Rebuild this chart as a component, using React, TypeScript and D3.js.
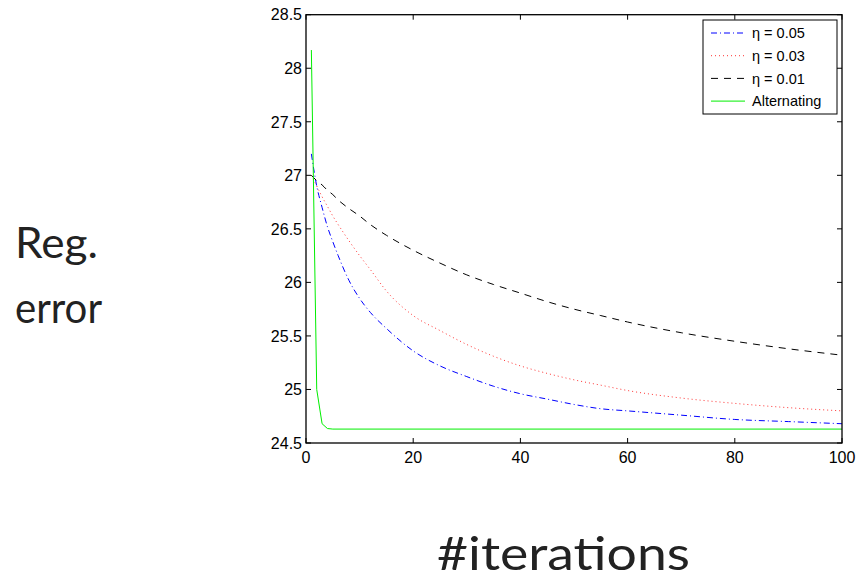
import React from "react";
import * as d3 from "d3";

const iters = [1, 2, 3, 4, 5, 6, 8, 10, 12, 15, 20, 25, 30, 35, 40, 45, 50, 55, 60, 70, 80, 90, 100];
const eta005 = [27.2, 26.9, 26.7, 26.52, 26.38, 26.25, 26.02, 25.85, 25.72, 25.57, 25.36, 25.22, 25.12, 25.03, 24.96, 24.91, 24.86, 24.82, 24.8, 24.76, 24.72, 24.7, 24.68];
const eta003 = [27.0, 26.9, 26.8, 26.71, 26.62, 26.54, 26.39, 26.25, 26.12, 25.92, 25.69, 25.55, 25.42, 25.31, 25.22, 25.15, 25.09, 25.04, 24.99, 24.92, 24.87, 24.83, 24.8];
const eta001 = [27.0, 26.95, 26.91, 26.86, 26.82, 26.77, 26.69, 26.62, 26.54, 26.44, 26.3, 26.18, 26.07, 25.98, 25.9, 25.82, 25.75, 25.69, 25.63, 25.53, 25.45, 25.38, 25.32];
const altIters = [1, 2, 3, 4, 5, 100];
const alternating = [28.17, 25.0, 24.68, 24.635, 24.63, 24.63];

const xTicks = [0, 20, 40, 60, 80, 100];
const yTicks = [24.5, 25, 25.5, 26, 26.5, 27, 27.5, 28, 28.5];

const series = [
  { label: "\u03b7 = 0.05", xs: iters, ys: eta005, color: "#0000ff", dash: "6,3,1,3", smooth: true },
  { label: "\u03b7 = 0.03", xs: iters, ys: eta003, color: "#ff3333", dash: "1,3", smooth: true },
  { label: "\u03b7 = 0.01", xs: iters, ys: eta001, color: "#000000", dash: "7,6", smooth: true },
  { label: "Alternating", xs: altIters, ys: alternating, color: "#00ee00", dash: "", smooth: false },
];

export default function App() {
  const W = 857, H = 581;
  const L = 306, R = 842, T = 14.7, B = 443;
  const x = d3.scaleLinear().domain([0, 100]).range([L, R]);
  const y = d3.scaleLinear().domain([24.5, 28.5]).range([B, T]);
  const smoothLine = d3.line<[number, number]>().x(d => x(d[0])).y(d => y(d[1])).curve(d3.curveMonotoneX);
  const straightLine = d3.line<[number, number]>().x(d => x(d[0])).y(d => y(d[1]));
  const tickFont = "'Liberation Sans', Arial, sans-serif";
  const tl = 5;
  return (
    <svg width={W} height={H} style={{ position: "absolute", left: 0, top: 0, background: "#fff" }}>
      <rect x={0} y={0} width={W} height={H} fill="#fff" />
      <defs>
        <clipPath id="plotclip"><rect x={L} y={T} width={R - L} height={B - T} /></clipPath>
      </defs>
      <g clipPath="url(#plotclip)">
        {series.map((s, i) => {
          const pts = s.xs.map((v, j) => [v, s.ys[j]] as [number, number]);
          const d = (s.smooth ? smoothLine(pts) : straightLine(pts)) || "";
          return (
            <path key={i} d={d} fill="none" stroke={s.color} strokeWidth={1}
              strokeDasharray={s.dash || undefined} />
          );
        })}
      </g>
      <rect x={L} y={T} width={R - L} height={B - T} fill="none" stroke="#000" strokeWidth={1.3} />
      {yTicks.map((t, i) => (
        <g key={i}>
          <line x1={L} x2={L + tl} y1={y(t)} y2={y(t)} stroke="#000" strokeWidth={1} />
          <line x1={R} x2={R - tl} y1={y(t)} y2={y(t)} stroke="#000" strokeWidth={1} />
          <text x={302} y={y(t)} dy="0.36em" textAnchor="end" fontFamily={tickFont} fontSize={16}>{t}</text>
        </g>
      ))}
      {xTicks.map((t, i) => (
        <g key={i}>
          <line x1={x(t)} x2={x(t)} y1={B} y2={B - tl} stroke="#000" strokeWidth={1} />
          <line x1={x(t)} x2={x(t)} y1={T} y2={T + tl} stroke="#000" strokeWidth={1} />
          <text x={x(t)} y={463} textAnchor="middle" fontFamily={tickFont} fontSize={16}>{t}</text>
        </g>
      ))}
      <rect x={703} y={20} width={134} height={94} fill="#fff" stroke="#000" strokeWidth={1} />
      {series.map((s, i) => (
        <g key={i}>
          <line x1={711} x2={745} y1={33 + i * 22.7} y2={33 + i * 22.7} stroke={s.color} strokeWidth={1}
            strokeDasharray={s.dash || undefined} />
          <text x={752} y={33 + i * 22.7} dy="0.36em" fontFamily={tickFont} fontSize={14.5}>{s.label}</text>
        </g>
      ))}
      <text x={15} y={258} fontFamily="Lato, sans-serif" fontSize={43} fill="#222" textLength={83} lengthAdjust="spacingAndGlyphs">Reg.</text>
      <text x={15} y={323} fontFamily="Lato, sans-serif" fontSize={42} fill="#222" textLength={87} lengthAdjust="spacingAndGlyphs">error</text>
      <text x={437} y={570} fontFamily="Lato, sans-serif" fontSize={46} fill="#222" textLength={253} lengthAdjust="spacingAndGlyphs">#iterations</text>
    </svg>
  );
}
